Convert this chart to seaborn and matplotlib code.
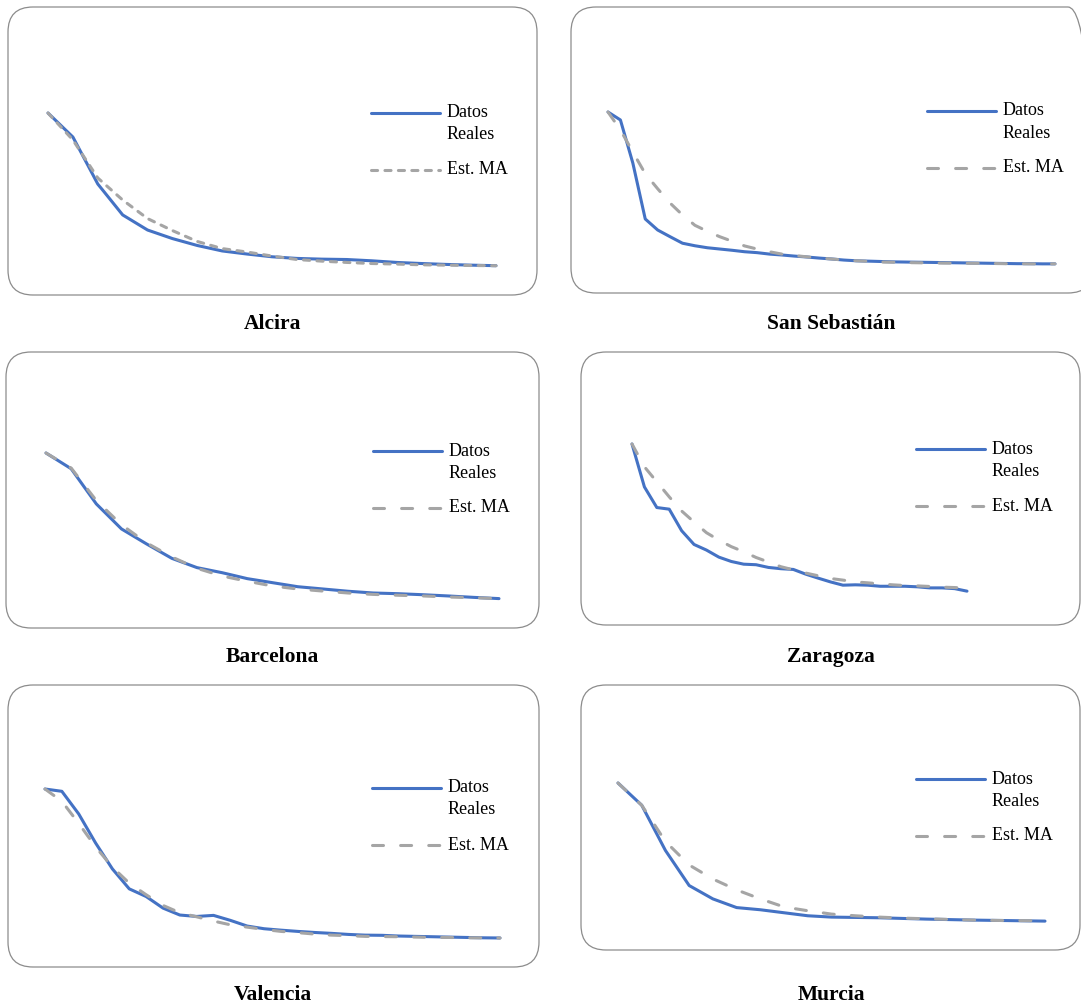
import matplotlib
matplotlib.use("Agg")
import matplotlib.pyplot as plt
import seaborn as sns
import numpy as np
from matplotlib.patches import FancyBboxPatch
from matplotlib.lines import Line2D

# ---------------- data (index: start of series = 100) ----------------
ciudades = ["Alcira", "San Sebastián", "Barcelona", "Zaragoza", "Valencia", "Murcia"]
leyenda_reales = "Datos\nReales"
leyenda_ma = "Est. MA"

alcira_reales = [100, 86.8, 61.0, 44.0, 35.7, 31.0, 27.2, 24.2, 22.5, 21.0, 20.1, 19.7, 19.5,
                 18.8, 17.9, 17.3, 16.8, 16.4, 16.1]
alcira_ma = [100, 85.2, 64.3, 52.2, 42.0, 35.4, 29.4, 25.5, 23.6, 21.4, 19.5, 18.6, 17.9,
             17.3, 17.0, 16.6, 16.4, 16.2, 16.1]

sansebastian_reales = [100, 95.6, 71.8, 40.9, 34.8, 31.1, 27.5, 26.1, 25.0, 24.3, 23.6, 22.8,
                       22.3, 21.5, 21.0, 20.4, 19.9, 19.3, 18.8, 18.2, 17.8, 17.6, 17.4, 17.2,
                       17.1, 17.0, 16.9, 16.8, 16.7, 16.6, 16.5, 16.4, 16.3, 16.2, 16.2, 16.1,
                       16.1]
sansebastian_ma = [100, 90.1, 77.9, 65.9, 57.6, 49.7, 43.1, 37.4, 34.1, 31.1, 28.6, 26.0,
                   24.3, 22.8, 21.5, 20.7, 20.0, 19.3, 18.8, 18.2, 17.8, 17.5, 17.1, 17.0,
                   16.8, 16.7, 16.6, 16.5, 16.5, 16.4, 16.4, 16.3, 16.2, 16.2, 16.1, 16.1,
                   16.1]

barcelona_reales = [100, 91.0, 70.9, 56.6, 48.0, 39.8, 34.5, 31.6, 28.2, 25.9, 23.6, 22.3,
                    21.0, 20.0, 19.6, 19.0, 18.3, 17.5, 16.8]
barcelona_ma = [100, 91.4, 72.8, 59.0, 48.6, 40.6, 34.1, 29.7, 26.7, 24.0, 22.3, 21.1,
                20.0, 19.2, 18.7, 18.3, 17.7, 17.3, 16.8]

zaragoza_reales = [100, 76.3, 64.9, 64.0, 52.1, 44.5, 41.4, 37.5, 35.1, 33.6, 33.3, 31.8,
                   31.1, 30.7, 28.1, 25.9, 23.8, 22.0, 22.2, 22.0, 21.4, 21.4, 21.4, 21.1,
                   20.5, 20.5, 20.1, 18.7]
zaragoza_ma = [100, 87.4, 79.1, 70.8, 63.0, 56.9, 51.0, 46.9, 43.3, 40.5, 37.3, 34.8,
               32.2, 30.5, 28.7, 27.2, 25.7, 24.8, 23.8, 23.3, 22.7, 22.2, 21.8, 21.6,
               21.3, 20.9, 20.7, 20.3]

valencia_reales = [100, 98.7, 86.0, 69.7, 55.1, 43.9, 39.6, 33.1, 29.2, 28.4, 29.0, 26.2,
                   23.0, 21.5, 20.7, 20.0, 19.4, 18.9, 18.3, 17.9, 17.8, 17.4, 17.2, 17.0,
                   16.8, 16.6, 16.4, 16.3]
valencia_ma = [100, 93.1, 80.7, 67.5, 56.1, 47.1, 40.6, 34.6, 30.5, 28.2, 25.8, 23.7,
               22.4, 21.1, 20.0, 19.3, 18.5, 17.9, 17.6, 17.2, 17.1, 17.0, 16.8, 16.6,
               16.6, 16.4, 16.4, 16.3]

murcia_reales = [100, 86.7, 59.6, 38.6, 30.6, 25.4, 24.1, 22.3, 20.5, 19.7, 19.5, 19.3,
                 18.9, 18.5, 18.2, 17.9, 17.7, 17.5, 17.3]
murcia_ma = [100, 86.7, 65.0, 50.9, 42.5, 36.0, 30.6, 25.8, 23.5, 21.5, 20.5, 19.7,
             19.1, 18.7, 18.3, 17.9, 17.7, 17.6, 17.5]

series_reales = [alcira_reales, sansebastian_reales, barcelona_reales,
                 zaragoza_reales, valencia_reales, murcia_reales]
series_ma = [alcira_ma, sansebastian_ma, barcelona_ma, zaragoza_ma, valencia_ma, murcia_ma]

# ---------------- layout (pixels in a 1081x1008 canvas) ----------------
W, H, DPI = 1081, 1008, 100
# box: x0, y0(top), x1, y1(bottom); line: x_start, y_start, x_end; legend: x, y; title: x, y
layout = [
    dict(box=(8, 7, 537, 295), line=(48, 113, 496), leg=(371, 112.5), title=(272.5, 324), short=True),
    dict(box=(571, 7, 1093, 293), line=(608, 112, 1055), leg=(927, 111), title=(831, 324), short=False),
    dict(box=(6, 352, 539, 628), line=(46, 453, 499), leg=(373, 451), title=(272, 657), short=False),
    dict(box=(581, 352, 1080, 625), line=(632, 444, 967), leg=(916, 449), title=(831, 657), short=False),
    dict(box=(8, 685, 539, 967), line=(45, 789, 500), leg=(372, 788), title=(273, 995), short=False),
    dict(box=(581, 685, 1080, 950), line=(618, 783, 1045), leg=(916, 779), title=(831, 995), short=False),
]

BLUE = "#4472C4"
GREY = "#A5A5A5"
BORDER = "#8C8C8C"
LW = 2.2
SHORT_DASH = (0, (2.0, 2.4))
LONG_DASH = (0, (3.6, 5.6))

sns.set_theme(style="white")
plt.rcParams["font.family"] = ["Liberation Serif", "DejaVu Serif"]

fig = plt.figure(figsize=(W / DPI, H / DPI), dpi=DPI)
fig.patch.set_facecolor("white")
T = fig.dpi_scale_trans


def px(x, y):
    return x / DPI, (H - y) / DPI


for name, reales, ma, lay in zip(ciudades, series_reales, series_ma, layout):
    bx0, by0, bx1, by1 = lay["box"]
    # rounded frame
    x0, y0 = px(bx0, by1)
    frame = FancyBboxPatch((x0, y0), (bx1 - bx0) / DPI, (by1 - by0) / DPI,
                           boxstyle="round,pad=0,rounding_size=0.25",
                           transform=T, fill=False, ec=BORDER, lw=0.9, zorder=1)
    fig.add_artist(frame)

    lx0, ly0, lx1 = lay["line"]
    ax = fig.add_axes([lx0 / W, 1 - by1 / H, (lx1 - lx0) / W, (by1 - ly0) / H])
    ax.set_facecolor("none")
    dash = SHORT_DASH if lay["short"] else LONG_DASH
    sns.lineplot(x=np.arange(len(reales)), y=reales, ax=ax, color=BLUE, lw=LW, clip_on=False,
                 solid_capstyle="round", solid_joinstyle="round", zorder=2)
    sns.lineplot(x=np.arange(len(ma)), y=ma, ax=ax, color=GREY, lw=LW, linestyle=dash,
                 dash_capstyle="round", dash_joinstyle="round", clip_on=False, zorder=3)
    ax.set_xlim(0, len(reales) - 1)
    ax.set_ylim(0, 100)
    ax.axis("off")

    # legend
    gx, gy = lay["leg"]
    hx0, hy = px(gx, gy)
    hx1, _ = px(gx + 69, gy)
    fig.add_artist(Line2D([hx0, hx1], [hy, hy], transform=T, color=BLUE, lw=LW,
                          solid_capstyle="round"))
    _, gy2 = px(gx, gy + 57)
    fig.add_artist(Line2D([hx0, hx1], [gy2, gy2], transform=T, color=GREY, lw=LW,
                          linestyle=dash, dash_capstyle="round"))
    tx, _ = px(gx + 76, gy)
    l1, l2 = leyenda_reales.split("\n")
    fig.text(tx, hy, l1, transform=T, ha="left", va="center", fontsize=13, color="black")
    _, ty2 = px(gx, gy + 22)
    fig.text(tx, ty2, l2, transform=T, ha="left", va="center", fontsize=13, color="black")
    fig.text(tx, gy2, leyenda_ma, transform=T, ha="left", va="center", fontsize=13, color="black")

    # title
    ttx, tty = px(*lay["title"])
    fig.text(ttx, tty, name, transform=T, ha="center", va="center", fontsize=15.5,
             fontweight="bold", color="black")

fig.savefig("out.png", dpi=DPI, facecolor="white")
